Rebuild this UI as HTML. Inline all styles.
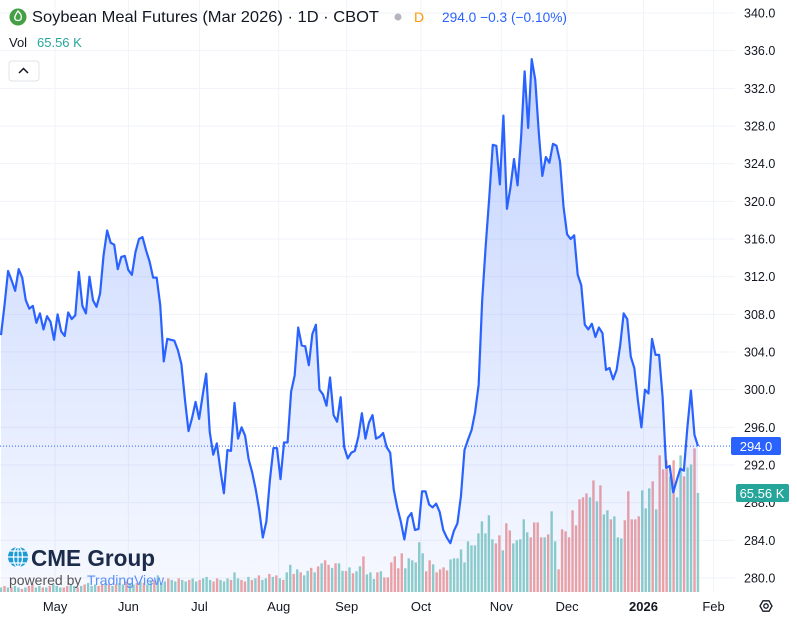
<!DOCTYPE html>
<html><head><meta charset="utf-8">
<style>
html,body{margin:0;padding:0;background:#fff;}
body{width:797px;height:622px;overflow:hidden;position:relative;font-family:"Liberation Sans",sans-serif;}
svg{position:absolute;left:0;top:0;}
</style></head>
<body>
<svg id="chart" width="797" height="622" xmlns="http://www.w3.org/2000/svg">
  <defs>
    <linearGradient id="areaGrad" x1="0" y1="0" x2="0" y2="1">
      <stop offset="0" stop-color="#2962ff" stop-opacity="0.28"/>
      <stop offset="1" stop-color="#2962ff" stop-opacity="0.04"/>
    </linearGradient>
  </defs>
  <g id="grid"></g>
  <g id="vol"></g>
  <g id="area"></g>
  <g id="yaxis"></g>
  <g id="xaxis"></g>

  <g>
    <circle cx="18" cy="17" r="8.5" fill="#43a047"/>
    <path d="M18 11 C21 14 22 16 21 19 C20 21 16 21 15 19 C14 17 16 14 18 11 Z" fill="none" stroke="#fff" stroke-width="1.3"/>
    <text x="32" y="22" font-size="16" fill="#131722" textLength="347" lengthAdjust="spacingAndGlyphs">Soybean Meal Futures (Mar 2026) · 1D · CBOT</text>
    <circle cx="398" cy="17" r="3.5" fill="#b2b5be"/>
    <text x="414" y="22" font-size="14" fill="#ff9800">D</text>
    <text x="442" y="22" font-size="14" fill="#2962ff" textLength="125" lengthAdjust="spacingAndGlyphs">294.0  −0.3 (−0.10%)</text>
    <text x="9" y="47" font-size="13" fill="#131722">Vol</text>
    <text x="37" y="47" font-size="13" fill="#26a69a">65.56 K</text>
    <rect x="9" y="61" width="30" height="20" rx="3" fill="#fff" stroke="#e0e3eb"/>
    <path d="M19 73 L23.5 68.5 L28 73" fill="none" stroke="#131722" stroke-width="1.5"/>
  </g>

  <g>
    <circle cx="18" cy="557" r="10" fill="#1a9ad6"/>
    <path d="M8 557 H28 M18 547 V567 M10 551 H26 M10 563 H26" stroke="#fff" stroke-width="1.2"/>
    <ellipse cx="18" cy="557" rx="4.5" ry="10" fill="none" stroke="#fff" stroke-width="1.2"/>
    <text x="31" y="566" font-size="23" font-weight="bold" fill="#1c2b4a" textLength="124" lengthAdjust="spacingAndGlyphs">CME Group</text>
    <text x="9" y="585" font-size="14" fill="#555">powered by</text>
    <text x="87" y="585" font-size="14" fill="#5b8ff9">TradingView</text>
  </g>

  <g>
    <rect x="731" y="437" width="50" height="18" rx="2" fill="#2962ff"/>
    <text x="756" y="451" font-size="13" fill="#fff" text-anchor="middle">294.0</text>
  </g>
  <g>
    <rect x="736" y="484" width="53" height="18" rx="2" fill="#26a69a"/>
    <text x="762" y="498" font-size="13" fill="#fff" text-anchor="middle">65.56 K</text>
  </g>
  <g>
    <path d="M760 606 L763 600.8 L769 600.8 L772 606 L769 611.2 L763 611.2 Z" fill="none" stroke="#131722" stroke-width="1.3"/>
    <circle cx="766" cy="606" r="2.2" fill="none" stroke="#131722" stroke-width="1.3"/>
  </g>
</svg>
<script>
const priceTicks = ["340.0","336.0","332.0","328.0","324.0","320.0","316.0","312.0","308.0","304.0","300.0","296.0","292.0","288.0","284.0","280.0"];
const monthLabels = ["May","Jun","Jul","Aug","Sep","Oct","Nov","Dec","2026","Feb"];
const monthBarIndex = [15.3,36,56.1,78.5,97.7,118.7,141.4,160,181.6,201.4];
const prices = [305.8,309.0,312.6,311.6,310.5,312.8,311.9,309.5,308.6,308.9,307.1,308.1,306.4,307.8,307.2,305.3,308.0,306.2,305.7,308.2,307.5,307.9,312.5,308.9,308.1,312.0,309.5,308.8,310.2,314.3,316.9,315.6,315.4,312.8,314.1,314.2,312.7,312.2,314.6,316.0,316.2,314.8,313.6,311.9,311.9,309.0,303.0,305.4,305.3,305.2,304.2,302.7,298.9,295.6,297.0,298.7,296.9,299.4,301.7,295.5,293.1,294.3,291.5,289.0,293.6,293.5,298.6,294.8,296.0,295.1,292.6,291.2,289.4,287.2,284.3,286.0,290.4,293.8,293.8,290.5,294.4,294.4,299.8,301.5,306.6,304.7,304.6,302.6,305.9,306.9,300.0,299.5,298.3,301.3,297.3,296.6,299.2,293.9,292.7,293.3,293.5,295.0,297.5,294.8,296.5,297.3,294.8,295.0,295.4,293.9,293.3,289.4,287.5,286.0,284.1,286.4,286.9,285.1,285.2,289.2,289.2,287.8,287.5,287.9,287.0,285.1,284.3,283.7,285.0,285.8,288.7,293.6,294.7,295.7,297.6,300.5,309.5,315.3,320.4,326.0,325.9,321.8,329.1,319.2,321.5,324.5,321.7,326.8,333.8,327.8,335.1,332.9,327.3,322.7,324.7,324.1,326.1,325.9,324.2,319.4,316.5,316.0,316.4,312.2,311.1,306.9,306.4,307.0,305.6,306.6,306.0,302.1,302.3,301.1,302.1,304.7,308.1,307.5,303.5,302.3,298.9,296.0,300.0,299.6,305.4,303.7,303.7,299.2,291.7,291.9,289.1,290.4,291.6,291.4,296.0,299.9,295.2,294.0];
const volumes = [3,4,3,3,4,3,2,3,4,5,3,4,3,3,4,5,4,3,3,4,5,4,3,4,5,6,4,5,4,5,6,5,4,5,6,5,7,6,5,6,7,6,5,7,8,11,
6,7,9,8,7,9,8,7,8,9,7,8,9,10,8,7,9,8,7,9,8,13,
9,8,7,10,8,9,11,8,9,12,10,11,9,8,13,18,
12,15,13,11,14,16,13,17,19,21,18,16,19,19,14,
13.9,16.3,12.4,13.7,17.0,23.6,11.7,13.0,8.6,13.0,13.7,9.7,9.7,19.6,23.6,15.7,25.6,15.7,22.3,21.0,19.6,32.9,25.6,13.7,21.0,18.3,13.0,15.0,16.3,14.3,21.6,22.3,22.3,28.2,19.6,33.5,30.9,30.9,38.8,46.8,38.8,50.8,34.9,32.2,37.5,27.6,45.5,40.8,32.2,34.2,34.9,48.1,39.5,36.2,46.1,46.1,36.2,36.2,38.2,53.4,33.5,15.0,41.5,40.2,36.2,54.1,44.1,61.4,62.7,65.3,62.7,73.9,60.0,70.6,51.4,54.1,48.1,50.1,36.2,35.5,47.5,66.7,48.1,48.1,50.1,67.3,55.4,68.6,73.3,54.7,90.5,81.2,87.2,76.6,87.2,62.7,90.5,76.6,82.5,84.5,95.1,65.6];
const volUp = ("grgrggrgrrggrgrgggrrggrgrgggrrgrgrggrggrgrggrg"+"ggrggrggrggrgggrrgggrg"+"grrgrgrggrgrgrgg"+"rgrggrgrgrrgrgg"+
"rgrggrgggrgrrrrrrgggggg"+"rrgrrrrggggggggggggg"+"rrgrrggggg"+"rrrrgrggrrrrrrrrrgrgrggrggg"+"rrrrrgggrgrrrgrggrggrg").split("").map(c=>c==="g");

const NS="http://www.w3.org/2000/svg";
const plotL=0, plotR=735, xFirst=1, xLast=698;
const yTop=13, pxPerUnit=9.417, maxP=340;
const volBase=592, volPxPerK=99/65.56;
function yScale(v){return yTop+(maxP-v)*pxPerUnit;}
function xPrice(i){return xFirst+i*(xLast-xFirst)/(prices.length-1);}
function xVol(i){return xFirst+i*(xLast-xFirst)/(volumes.length-1);}
function xMonth(i){return xFirst+i*(xLast-xFirst)/(prices.length-1);}
function mk(tag,attrs,parent){const e=document.createElementNS(NS,tag);for(const k in attrs)e.setAttribute(k,attrs[k]);parent.appendChild(e);return e;}

const grid=document.getElementById('grid');
const yaxis=document.getElementById('yaxis');
priceTicks.forEach(t=>{
  const y=yScale(parseFloat(t));
  const l=mk('line',{x1:plotL,x2:plotR,y1:y,y2:y,stroke:'#f0f3fa','stroke-width':1},grid);
  
  
  const tx=mk('text',{x:744,y:y+4.5,'font-size':12.5,fill:'#131722'},yaxis);
  tx.textContent=t;
  
  
});
const xaxis=document.getElementById('xaxis');
monthLabels.forEach((m,i)=>{
  const x=xMonth(monthBarIndex[i]);
  const l=mk('line',{x1:x,x2:x,y1:0,y2:592,stroke:'#f0f3fa','stroke-width':1},grid);
  
  
  const tx=mk('text',{x:x,y:611,'font-size':13,fill:'#131722','text-anchor':'middle','font-weight':m==='2026'?'bold':'normal'},xaxis);
  tx.textContent=m;
  
  
});

const vol=document.getElementById('vol');
volumes.forEach((v,i)=>{
  const h=v*volPxPerK;
  const r=mk('rect',{x:xVol(i)-1.2,y:volBase-h,width:2.4,height:h,fill:volUp[i]!==false?'#8fd0c9':'#f2a3a2'},vol);
  
  
});

const area=document.getElementById('area');
let d='';
prices.forEach((p,i)=>{d+=(i?'L':'M')+xPrice(i).toFixed(2)+' '+yScale(p).toFixed(2)+' ';});
const fill=mk('path',{d:d+'L'+xPrice(prices.length-1)+' 592 L'+xPrice(0)+' 592 Z',fill:'url(#areaGrad)'},area);


const line=mk('path',{d:d,fill:'none',stroke:'#2962ff','stroke-width':2.2,'stroke-linejoin':'round'},area);


const lastY=yScale(prices[prices.length-1]);
const dl=mk('line',{x1:0,x2:731,y1:lastY,y2:lastY,stroke:'#2962ff','stroke-width':1,'stroke-dasharray':'1 2'},area);


</script>
</body></html>
